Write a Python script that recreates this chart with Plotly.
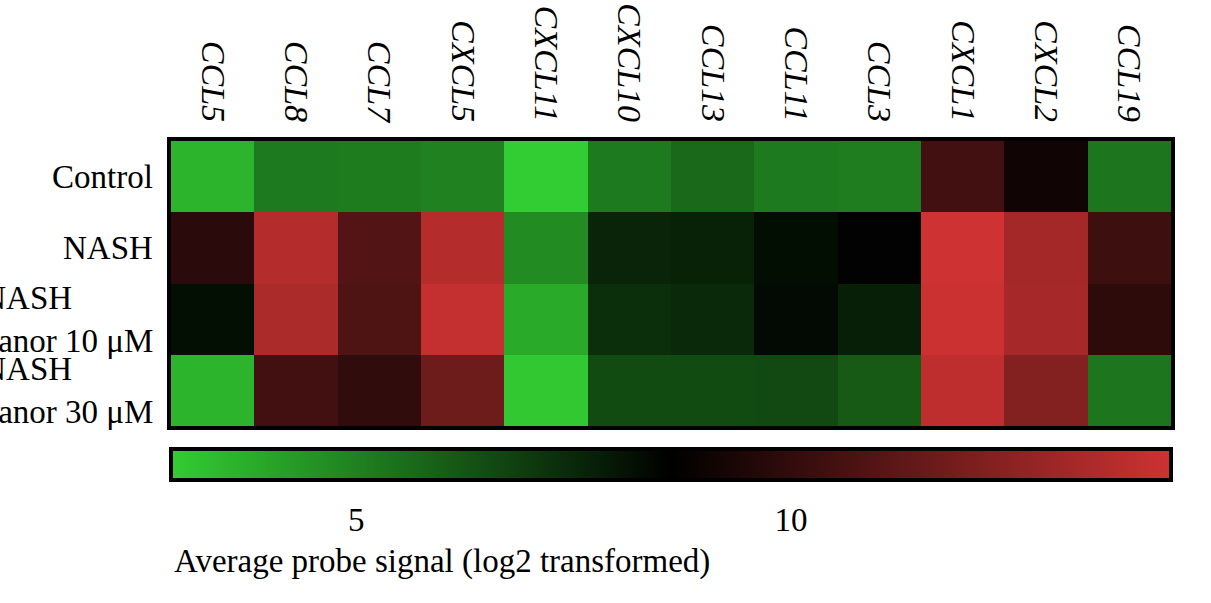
import plotly.graph_objects as go

genes = ["CCL5", "CCL8", "CCL7", "CXCL5", "CXCL11", "CXCL10",
         "CCL13", "CCL11", "CCL3", "CXCL1", "CXCL2", "CCL19"]
groups = ["Control", "NASH", "NASH<br>lanifibranor 10 μM", "NASH<br>lanifibranor 30 μM"]

control = [3.56, 5.20, 5.15, 5.00, 2.87, 5.20, 5.67, 5.20, 5.10, 10.45, 9.10, 5.30]
nash = [9.80, 13.66, 10.92, 13.66, 4.70, 7.61, 7.67, 8.23, 8.56, 14.37, 13.20, 10.35]
lani10 = [8.20, 13.40, 10.80, 14.10, 3.85, 7.33, 7.50, 8.33, 7.78, 14.30, 13.25, 9.88]
lani30 = [3.56, 10.45, 9.95, 11.70, 3.00, 6.52, 6.52, 6.60, 6.10, 13.95, 12.27, 5.31]

cbar_ticks = [5, 10]
cbar_title = "Average probe signal (log2 transformed)"

FONT = "Liberation Serif, Times New Roman, serif"
FS = 33

z = [control, nash, lani10, lani30]

fig = go.Figure(go.Heatmap(
    z=z, x=genes, y=groups,
    zmin=2.87, zmax=14.37,
    colorscale=[[0, "rgb(50,205,50)"], [0.5, "rgb(0,0,0)"], [1, "rgb(206,50,50)"]],
    xgap=0, ygap=0,
    colorbar=dict(
        orientation="h", x=0, xanchor="left", y=-0.08, yanchor="top",
        len=1, lenmode="fraction", thickness=31,
        outlinewidth=4, outlinecolor="black",
        xpad=0, ypad=0,
        tickvals=cbar_ticks, ticktext=[str(t) for t in cbar_ticks],
        ticks="outside", ticklen=10, tickcolor="rgba(0,0,0,0)",
        tickfont=dict(family=FONT, size=FS, color="black"),
    ),
))

# row labels as centered multi-line annotations
for g in groups:
    fig.add_annotation(
        x=0, xref="paper", xanchor="right", xshift=-16,
        y=g, yref="y", yanchor="middle",
        text=g, showarrow=False, align="center",
        font=dict(family=FONT, size=FS, color="black"),
    )

fig.add_annotation(
    x=0, xref="paper", xanchor="left", xshift=1,
    y=-0.477, yref="paper", yanchor="middle",
    text=cbar_title, showarrow=False,
    font=dict(family=FONT, size=FS, color="black"),
)

# thin grey halo around the heatmap frame
fig.add_shape(type="rect", xref="paper", yref="paper", x0=0, x1=1, y0=0, y1=1,
              line=dict(color="#a8a8a8", width=6), layer="below")

fig.update_xaxes(
    side="top", tickangle=90, ticks="", showgrid=False,
    range=[-0.5, len(genes) - 0.5], automargin=False,
    showline=True, linewidth=4, linecolor="black", mirror=True,
    tickfont=dict(family=FONT, size=34, color="black", style="italic"),
    ticklabelstandoff=3,
)
fig.update_yaxes(
    range=[len(groups) - 0.5, -0.5], automargin=False,
    showticklabels=False, ticks="", showgrid=False,
    showline=True, linewidth=4, linecolor="black", mirror=True,
)

fig.update_layout(
    width=1211, height=603,
    margin=dict(l=171, r=40, t=141, b=177, autoexpand=False),
    plot_bgcolor="white", paper_bgcolor="white",
    font=dict(family=FONT, size=FS, color="black"),
)

fig.write_html("out.html", config={"displayModeBar": False},
               post_script="document.body.style.margin='0';")
